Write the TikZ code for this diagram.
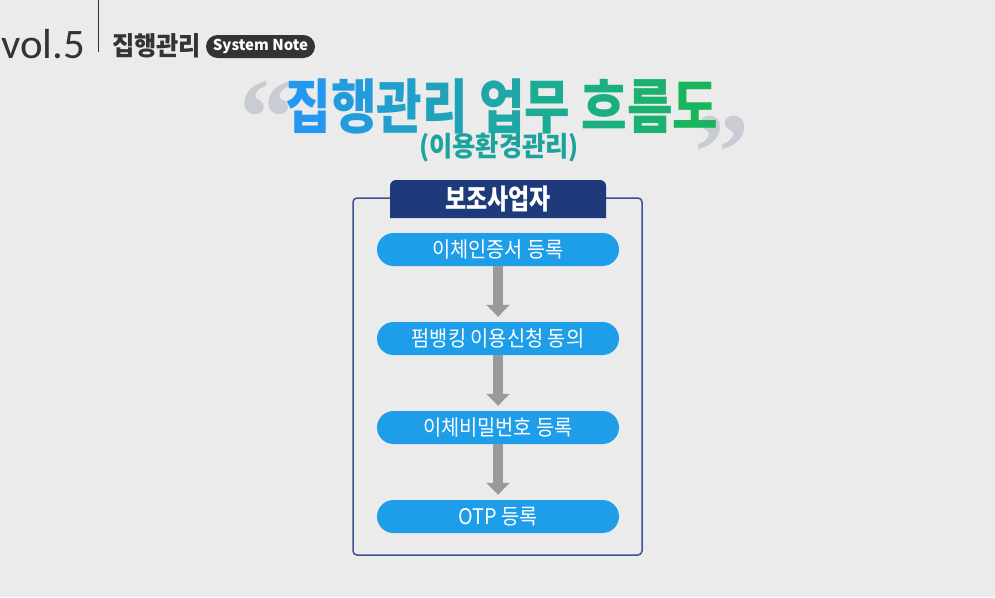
\documentclass[tikz,border=0pt]{standalone}
\usepackage{fontspec}
\usepackage{graphicx}
\setmainfont{Noto Sans CJK KR}
\newfontfamily\kr{Noto Sans CJK KR}
\newfontfamily\thinf{Carlito}
\newfontfamily\quotef{Liberation Serif}
\usetikzlibrary{arrows.meta}
\definecolor{bg}{HTML}{EBEBEB}
\definecolor{darktxt}{HTML}{333333}
\definecolor{navy}{HTML}{1F3A7A}
\definecolor{boxline}{HTML}{3C5290}
\definecolor{pill}{HTML}{1E9DE9}
\definecolor{arrgray}{HTML}{9A9A9A}
\definecolor{quotec}{HTML}{C9CCD3}
\definecolor{teal}{HTML}{1BA39C}
\definecolor{ta}{HTML}{2498F0}
\definecolor{tb}{HTML}{229CDD}
\definecolor{tc}{HTML}{21A0CB}
\definecolor{td}{HTML}{20A3B8}
\definecolor{te}{HTML}{1EA7A6}
\definecolor{tf}{HTML}{1CAB93}
\definecolor{tg}{HTML}{1BAE81}
\definecolor{th}{HTML}{1AB26E}
\definecolor{ti}{HTML}{18B65C}
\tikzset{
  stepbox/.style={draw=none, fill=pill, rounded corners=16.5pt, minimum width=242pt,
    minimum height=33pt, inner sep=0pt, text=white, font=\kr\fontsize{21.5}{21.5}\selectfont},
  flowarrow/.style={draw=arrgray, line width=10pt, -{Triangle[width=23pt,length=12pt]}, shorten >=5pt},
  quotemark/.style={inner sep=0pt, text=quotec, font=\quotef\bfseries\fontsize{110}{110}\selectfont},
}
\newcommand{\nx}[2]{\scalebox{#1}[1]{#2}}
\begin{document}
\begin{tikzpicture}[x=1pt,y=-1pt]
\useasboundingbox (0,0) rectangle (995,597);
\fill[bg] (0,0) rectangle (995,597);
% header
\node[anchor=base west, inner sep=0pt, text=darktxt, font=\thinf\fontsize{42}{42}\selectfont] (vol) at (1,58) {\nx{1.02}{vol.5}};
\coordinate (vtop) at (98,0);
\coordinate (vbot) at (98,52);
\draw[darktxt, line width=0.8pt] (vtop) -- (vbot);
\node[anchor=west, inner sep=0pt, text=darktxt, font=\kr\bfseries\fontsize{26}{26}\selectfont] (hd) at (112,46) {\nx{0.93}{집행관리}};
\node[fill=darktxt, rounded corners=11.5pt, minimum width=109pt, minimum height=23pt, inner sep=0pt, text=white, font=\kr\bfseries\fontsize{15}{15}\selectfont] (sn) at (260.5,46.5) {System Note};
% quotes
\node[quotemark] (ql) at (267,118) {“};
\node[quotemark] (qr) at (722,153) {”};
% title
\node[inner sep=0pt, font=\kr\bfseries\fontsize{59}{59}\selectfont] (title) at (502,106)
  {\nx{0.84}{\textcolor{ta}{집}\textcolor{tb}{행}\textcolor{tc}{관}\textcolor{td}{리} \textcolor{te}{업}\textcolor{tf}{무} \textcolor{tg}{흐}\textcolor{th}{름}\textcolor{ti}{도}}};
\node[inner sep=0pt, text=teal, font=\kr\bfseries\fontsize{27.5}{27.5}\selectfont] (sub) at (499,148) {\nx{0.92}{(이용환경관리)}};
% box
\draw[boxline, line width=1.5pt, rounded corners=4pt] (353,198) rectangle (642,555);
\fill[navy] (390,218) [rounded corners=6pt] -- (390,180) -- (606,180) [sharp corners] -- (606,218) -- cycle;
\node[inner sep=0pt, text=white, font=\kr\bfseries\fontsize{28}{28}\selectfont] (tab) at (498,199) {\nx{0.82}{보조사업자}};
% steps
\node[stepbox] (s1) at (498,249.5) {\nx{0.92}{이체인증서 등록}};
\node[stepbox] (s2) at (498,338.5) {\nx{0.92}{펌뱅킹 이용신청 동의}};
\node[stepbox] (s3) at (498,427.5) {\nx{0.92}{이체비밀번호 등록}};
\node[stepbox] (s4) at (498,516.5) {\nx{0.92}{OTP 등록}};
\draw[flowarrow] (s1.south) -- (s2.north);
\draw[flowarrow] (s2.south) -- (s3.north);
\draw[flowarrow] (s3.south) -- (s4.north);
\end{tikzpicture}
\end{document}
